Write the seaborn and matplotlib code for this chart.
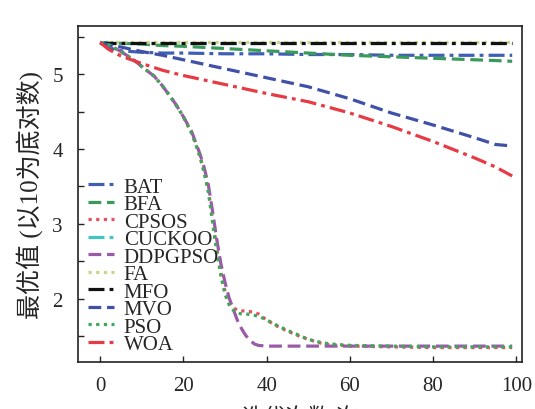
import numpy as np
import pandas as pd
import seaborn as sns
import matplotlib.pyplot as plt
from matplotlib.ticker import MultipleLocator

# iteration grids
it_a = [0, 2, 5, 10, 15, 20, 30, 40, 50, 60, 70, 80, 90, 95, 99]
it_b = [0, 2, 5, 8, 10, 13, 15, 18, 20, 22, 23, 24, 25, 26, 27, 28, 29, 30, 31, 32,
        33, 34, 35, 36, 37, 38, 40, 42, 45, 48, 50, 53, 55, 60, 70, 80, 90, 99]

bat = [5.42, 5.35, 5.31, 5.29, 5.28, 5.28, 5.27, 5.27, 5.26, 5.26, 5.25, 5.25, 5.25, 5.25, 5.25]
bfa = [5.42, 5.42, 5.41, 5.40, 5.38, 5.37, 5.34, 5.31, 5.28, 5.25, 5.23, 5.21, 5.19, 5.18, 5.17]
cuckoo = [5.42, 5.42, 5.42, 5.42, 5.42, 5.42, 5.42, 5.42, 5.42, 5.42, 5.42, 5.42, 5.42, 5.42, 5.42]
fa = [5.43, 5.43, 5.43, 5.43, 5.43, 5.43, 5.43, 5.43, 5.43, 5.43, 5.43, 5.43, 5.43, 5.43, 5.43]
mfo = [5.42, 5.42, 5.42, 5.42, 5.42, 5.42, 5.42, 5.42, 5.42, 5.42, 5.42, 5.42, 5.42, 5.42, 5.42]
mvo = [5.42, 5.39, 5.36, 5.30, 5.25, 5.19, 5.07, 4.95, 4.83, 4.67, 4.48, 4.32, 4.15, 4.06, 4.04]
woa = [5.42, 5.33, 5.24, 5.14, 5.05, 4.98, 4.86, 4.74, 4.63, 4.48, 4.30, 4.10, 3.88, 3.76, 3.64]

cpsos = [5.42, 5.39, 5.30, 5.19, 5.10, 4.97, 4.84, 4.61, 4.43, 4.21, 4.06, 3.90, 3.70,
         3.45, 3.07, 2.68, 2.36, 2.10, 1.95, 1.88, 1.85, 1.84, 1.84, 1.83, 1.82, 1.80,
         1.72, 1.65, 1.57, 1.50, 1.46, 1.41, 1.39, 1.37, 1.36, 1.35, 1.35, 1.35]
pso = [5.42, 5.39, 5.30, 5.19, 5.10, 4.97, 4.84, 4.61, 4.43, 4.21, 4.06, 3.89, 3.68,
       3.42, 3.02, 2.63, 2.31, 2.06, 1.92, 1.85, 1.81, 1.80, 1.80, 1.79, 1.78, 1.77,
       1.72, 1.66, 1.58, 1.51, 1.46, 1.42, 1.40, 1.38, 1.37, 1.36, 1.36, 1.36]
ddpgpso = [5.42, 5.39, 5.30, 5.19, 5.10, 4.97, 4.84, 4.61, 4.43, 4.23, 4.08, 3.93, 3.75,
           3.52, 3.17, 2.80, 2.47, 2.22, 2.01, 1.86, 1.71, 1.60, 1.51, 1.45, 1.40, 1.38,
           1.37, 1.37, 1.37, 1.37, 1.37, 1.37, 1.37, 1.37, 1.37, 1.37, 1.37, 1.37]

algos = ["BAT", "BFA", "CPSOS", "CUCKOO", "DDPGPSO", "FA", "MFO", "MVO", "PSO", "WOA"]
series = [(it_a, bat), (it_a, bfa), (it_b, cpsos), (it_a, cuckoo), (it_b, ddpgpso),
          (it_a, fa), (it_a, mfo), (it_a, mvo), (it_b, pso), (it_a, woa)]

colors = ["#3f5fb5", "#3a9a5a", "#e8505e", "#40c4c4", "#9a5aa8",
          "#cdd48a", "#111111", "#3f50a8", "#3fa85a", "#e83a44"]
dd = (5, 1.6, 1.2, 1.6)   # dash-dot
da = (4, 1.8)             # dashed
do = (1, 1.4)             # dotted
dash_list = [dd, da, do, dd, da, do, dd, da, do, dd]

rows = []
for name, (xs, ys) in zip(algos, series):
    for x, y in zip(xs, ys):
        rows.append((name, x, y))
df = pd.DataFrame(rows, columns=["algo", "iter", "val"])

sns.set_theme(style="ticks")
plt.rcParams["font.family"] = ["Liberation Serif", "Noto Sans CJK SC"]

fig = plt.figure(figsize=(5.35, 4.1), dpi=100)
ax = fig.add_axes([0.146, 0.115, 0.830, 0.819])

sns.lineplot(data=df, x="iter", y="val", hue="algo", style="algo",
             hue_order=algos, style_order=algos,
             palette=dict(zip(algos, colors)), dashes=dict(zip(algos, dash_list)),
             linewidth=2.3, ax=ax)

ax.set_xlim(-5.3, 101.4)
ax.set_ylim(1.16, 5.64)
ax.set_xticks([0, 20, 40, 60, 80, 100])
ax.set_yticks([2, 3, 4, 5])
ax.yaxis.set_minor_locator(MultipleLocator(0.5))
ax.tick_params(axis="both", which="both", direction="in", length=4, width=1,
               labelsize=15, top=False, right=False)
ax.tick_params(axis="x", pad=10)
ax.tick_params(axis="y", pad=11)
for s in ax.spines.values():
    s.set_linewidth(1.2)
    s.set_color("#222222")

ax.set_ylabel("最优值 (以10为底对数)", fontsize=18, labelpad=7)
ax.set_xlabel("迭代次数/次", fontsize=16, labelpad=9)

ax.legend(loc="lower left", bbox_to_anchor=(-0.005, -0.014), frameon=False,
          fontsize=15, handlelength=1.25, handletextpad=0.45,
          labelspacing=-0.1, borderaxespad=0.2)

fig.savefig("out.png", dpi=100)
